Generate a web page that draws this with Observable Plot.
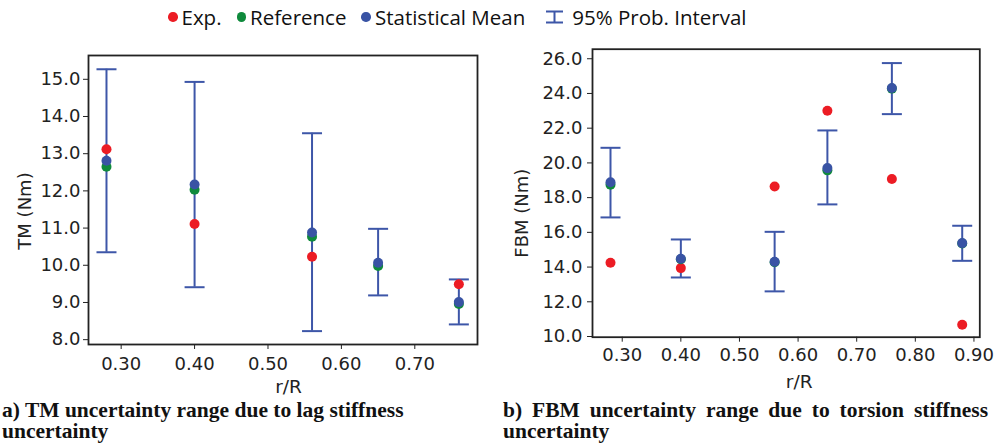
<!DOCTYPE html>
<html><head><meta charset="utf-8">
<script src="https://cdn.jsdelivr.net/npm/d3@7"></script>
<script src="https://cdn.jsdelivr.net/npm/@observablehq/plot@0.6"></script>
<style>
body{margin:0;background:#fff;}
#root{position:relative;width:996px;height:448px;overflow:hidden;background:#fff;}
.panel{position:absolute;}
#legend{position:absolute;left:168px;top:2px;height:30px;display:flex;align-items:center;font-family:"Open Sans",sans-serif;font-size:20.5px;color:#111;white-space:nowrap;}
#legend .it{display:flex;align-items:center;margin-right:15px;}
#legend .dot{width:9.5px;height:9.5px;border-radius:50%;display:inline-block;margin-right:4px;}
.cap{position:absolute;font-family:"Liberation Serif",serif;font-weight:bold;font-size:21.5px;line-height:21px;color:#111;}
</style></head><body><div id="root">
<div id="legend"></div>
<div id="pa" class="panel" style="left:0;top:40px"></div>
<div id="pb" class="panel" style="left:500px;top:40px"></div>
<div class="cap" style="left:2px;top:400px;width:440px;">a) TM uncertainty range due to lag stiffness uncertainty</div>
<div class="cap" style="left:503px;top:400px;width:485px;text-align:justify;">b) FBM uncertainty range due to torsion stiffness uncertainty</div>
</div>
<script>
// ---- data ----
const rA = [0.28, 0.40, 0.56, 0.65, 0.76];
const tmExp  = [13.12, 11.11, 10.23, null, 9.49];
const tmRef  = [12.65, 12.03, 10.77, 9.98, 8.96];
const tmMean = [12.81, 12.17, 10.88, 10.07, 9.01];
const tmLo   = [10.35, 9.41, 8.23, 9.19, 8.41];
const tmHi   = [15.27, 14.93, 13.55, 10.98, 9.62];

const rB = [0.28, 0.40, 0.56, 0.65, 0.76, 0.88];
const fbmExp  = [14.25, 13.94, 18.64, 23.00, 19.07, 10.68];
const fbmRef  = [18.74, 14.45, 14.28, 19.57, 24.28, 15.36];
const fbmMean = [18.89, 14.48, 14.31, 19.70, 24.31, 15.38];
const fbmLo   = [16.86, 13.40, 12.60, 17.61, 22.81, 14.36];
const fbmHi   = [20.87, 15.59, 16.03, 21.87, 25.75, 16.38];

const legendLabels = ["Exp.", "Reference", "Statistical Mean", "95% Prob. Interval"];
const xTicksA = [0.3, 0.4, 0.5, 0.6, 0.7];
const yTicksA = [8, 9, 10, 11, 12, 13, 14, 15];
const xTicksB = [0.3, 0.4, 0.5, 0.6, 0.7, 0.8, 0.9];
const yTicksB = [10, 12, 14, 16, 18, 20, 22, 24, 26];

const RED = "#ec1c24", GREEN = "#0f8a3c", BLUE = "#3953a4", BAR = "#3d56a8";

// legend
const lg = document.getElementById("legend");
[RED, GREEN, BLUE].forEach((c, i) => {
  const it = document.createElement("span"); it.className = "it";
  it.innerHTML = `<span class="dot" style="background:${c}"></span>${legendLabels[i]}`;
  lg.appendChild(it);
});
{
  const it = document.createElement("span"); it.className = "it";
  it.innerHTML = `<svg width="19" height="14" style="margin:0 8px 0 5px"><path d="M1,1.5H18M9.5,1.5V12.5M1,12.5H18" stroke="${BAR}" stroke-width="2" fill="none"/></svg>${legendLabels[3]}`;
  lg.appendChild(it);
}

const capSymbol = {draw(ctx, size) { const w = Math.sqrt(size / Math.PI); ctx.moveTo(-w, 0); ctx.lineTo(w, 0); }};

function rows(r, exp, ref, mean, lo, hi) {
  return r.map((x, i) => ({r: x, exp: exp[i], ref: ref[i], mean: mean[i], lo: lo[i], hi: hi[i]}));
}

function panel(data, o) {
  return Plot.plot({
    width: o.width, height: o.height,
    marginLeft: o.ml, marginRight: o.mr, marginTop: o.mt, marginBottom: o.mb,
    style: {fontFamily: "DejaVu Sans", fontSize: "18px", color: "#222", background: "white", overflow: "visible"},
    x: {domain: o.xd, ticks: o.xt, tickFormat: d3.format(".2f"), label: null, tickSize: 5, tickPadding: o.xpad},
    y: {domain: o.yd, ticks: o.yt, tickFormat: d3.format(".1f"), label: null, tickSize: 5, tickPadding: o.ypad},
    marks: [
      Plot.frame({stroke: "#222", strokeWidth: 1.8}),
      Plot.ruleX(data, {x: "r", y1: "lo", y2: "hi", stroke: BAR, strokeWidth: 2}),
      Plot.dot(data, {x: "r", y: "lo", symbol: capSymbol, r: 10, stroke: BAR, strokeWidth: 2, fill: "none"}),
      Plot.dot(data, {x: "r", y: "hi", symbol: capSymbol, r: 10, stroke: BAR, strokeWidth: 2, fill: "none"}),
      Plot.dot(data.filter(d => d.exp != null), {x: "r", y: "exp", r: 5, fill: RED}),
      Plot.dot(data, {x: "r", y: "ref", r: 5, fill: GREEN}),
      Plot.dot(data, {x: "r", y: "mean", r: 5, fill: BLUE}),
      Plot.text([o.ylabel], {frameAnchor: "left", textAnchor: "middle", lineAnchor: "middle", rotate: -90, dx: o.ylx, dy: o.yly, fontSize: 18, fill: "#222"}),
      Plot.text(["r/R"], {frameAnchor: "bottom", textAnchor: "middle", lineAnchor: "middle", dy: o.xly, dx: o.xlx, fontSize: 18.5, fill: "#222"})
    ]
  });
}

document.getElementById("pa").appendChild(panel(rows(rA, tmExp, tmRef, tmMean, tmLo, tmHi), {
  width: 490, height: 350, ml: 88, mr: 13, mt: 15, mb: 46,
  xd: [0.2555, 0.7854], yd: [7.87, 15.64], xt: xTicksA, yt: yTicksA, xpad: 8, ypad: 3,
  ylabel: "TM (Nm)", ylx: -63, yly: 11, xly: 43, xlx: 5.5
}));
document.getElementById("pb").appendChild(panel(rows(rB, fbmExp, fbmRef, fbmMean, fbmLo, fbmHi), {
  width: 496, height: 350, ml: 92, mr: 16.7, mt: 8.7, mb: 53.3,
  xd: [0.2493, 0.910], yd: [9.96, 26.55], xt: xTicksB, yt: yTicksB, xpad: 6, ypad: 5,
  ylabel: "FBM (Nm)", ylx: -70, yly: 20, xly: 45, xlx: 13
}));
</script>
</body></html>
